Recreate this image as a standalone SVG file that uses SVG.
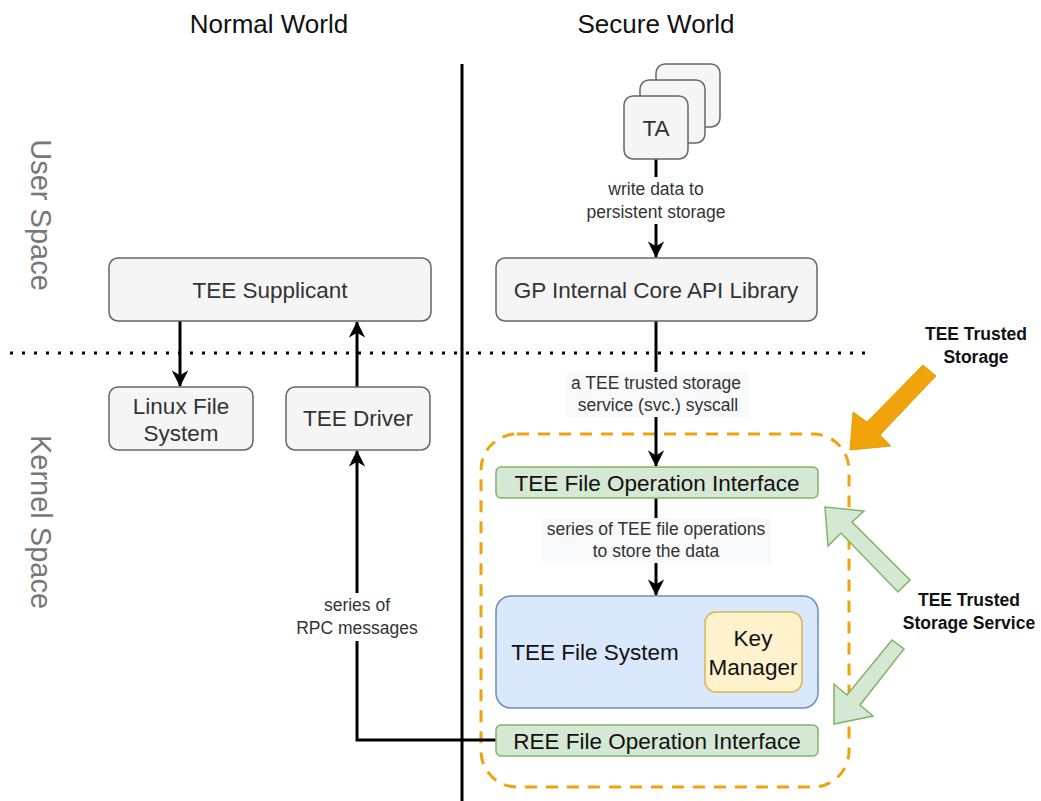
<svg xmlns="http://www.w3.org/2000/svg" width="1041" height="801" viewBox="0 0 1041 801">
  <defs>
    <style>
      text { font-family: "Liberation Sans", Arial, Helvetica, sans-serif; text-anchor: middle; }
      .title { font-size: 26px; fill: #111; }
      .side { font-size: 29px; fill: #777; }
      .box { fill: #f5f5f5; stroke: #666; stroke-width: 1.5; }
      .box-t { font-size: 22.5px; fill: #333; }
      .green { fill: #d5e8d4; stroke: #82b366; stroke-width: 1.5; }
      .green-t { font-size: 22.5px; fill: #111; }
      .lbl { font-size: 17.5px; fill: #333; }
      .lbl-bg { fill: #f8f9fa; }
      .edge { fill: none; stroke: #000; stroke-width: 3; }
      .note { font-size: 17.5px; font-weight: bold; fill: #111; }
    </style>
    <marker id="arrow" viewBox="0 0 10 10" refX="9.5" refY="5" markerWidth="5.5" markerHeight="5.5" markerUnits="strokeWidth" orient="auto">
      <path d="M0,0 L10,5 L0,10 L3,5 Z" fill="#000"/>
    </marker>
  </defs>

  <rect width="1041" height="801" fill="#fff"/>

  <!-- headings and region labels -->
  <text class="title" x="269" y="33">Normal World</text>
  <text class="title" x="656" y="33">Secure World</text>
  <text class="side" transform="translate(31,215) rotate(90)">User Space</text>
  <text class="side" transform="translate(31,522) rotate(90)">Kernel Space</text>

  <!-- world / space separators -->
  <line x1="462" y1="64" x2="462" y2="801" stroke="#000" stroke-width="3"/>
  <line x1="10" y1="353" x2="868" y2="353" stroke="#000" stroke-width="3" stroke-dasharray="3 9"/>

  <!-- trusted storage boundary -->
  <rect id="trusted-storage" x="481" y="434" width="368" height="353" rx="36" fill="none" stroke="#f0a30a" stroke-width="3" stroke-dasharray="12 9"/>

  <g id="connectors">
    <path class="edge" d="M180,321 V386" marker-end="url(#arrow)"/>
    <path class="edge" d="M357,387 V322" marker-end="url(#arrow)"/>
    <path class="edge" d="M496,740 H357 V451" marker-end="url(#arrow)"/>
    <path class="edge" d="M656,159 V257" marker-end="url(#arrow)"/>
    <path class="edge" d="M656,321 V466" marker-end="url(#arrow)"/>
    <path class="edge" d="M656,498 V595" marker-end="url(#arrow)"/>

    <rect x="293" y="593" width="130" height="48" fill="#fff"/>
    <text class="lbl" x="357" y="611">series of</text>
    <text class="lbl" x="357" y="634">RPC messages</text>

    <rect x="585" y="177" width="142" height="47" fill="#fff"/>
    <text class="lbl" x="656" y="195">write data to</text>
    <text class="lbl" x="656" y="218">persistent storage</text>

    <rect class="lbl-bg" x="567" y="372" width="182" height="45"/>
    <text class="lbl" x="656" y="389">a TEE trusted storage</text>
    <text class="lbl" x="658" y="411">service (svc.) syscall</text>

    <rect class="lbl-bg" x="542" y="518" width="229" height="45"/>
    <text class="lbl" x="656" y="535">series of TEE file operations</text>
    <text class="lbl" x="656" y="557">to store the data</text>
  </g>

  <g id="tee-supplicant">
    <rect class="box" x="109" y="258" width="322" height="63" rx="9"/>
    <text class="box-t" x="270" y="298">TEE Supplicant</text>
  </g>
  <g id="linux-fs">
    <rect class="box" x="109" y="387" width="144" height="63" rx="9"/>
    <text class="box-t" x="181" y="414">Linux File</text>
    <text class="box-t" x="181" y="441">System</text>
  </g>
  <g id="tee-driver">
    <rect class="box" x="286" y="387" width="144" height="63" rx="9"/>
    <text class="box-t" x="358" y="426">TEE Driver</text>
  </g>

  <g id="ta">
    <rect class="box" x="656" y="64" width="64" height="63" rx="9"/>
    <rect class="box" x="640" y="80" width="65" height="63" rx="9"/>
    <rect class="box" x="624" y="96" width="64" height="63" rx="9"/>
    <text class="box-t" x="656" y="136">TA</text>
  </g>

  <g id="gp-api">
    <rect class="box" x="496" y="258" width="321" height="63" rx="9"/>
    <text class="box-t" x="656" y="298">GP Internal Core API Library</text>
  </g>

  <g id="tee-foi">
    <rect class="green" x="496" y="467" width="322" height="31" rx="5"/>
    <text class="green-t" x="657" y="491">TEE File Operation Interface</text>
  </g>

  <g id="tee-fs">
    <rect x="496" y="596" width="322" height="112" rx="15" fill="#dae8fc" stroke="#6c8ebf" stroke-width="1.5"/>
    <text class="green-t" x="595" y="660">TEE File System</text>
  </g>

  <g id="key-manager">
    <rect x="705" y="612" width="97" height="80" rx="11" fill="#fff2cc" stroke="#d6b656" stroke-width="1.5"/>
    <text class="green-t" x="753" y="646">Key</text>
    <text class="green-t" x="753" y="675">Manager</text>
  </g>

  <g id="ree-foi">
    <rect class="green" x="496" y="725" width="322" height="31" rx="5"/>
    <text class="green-t" x="657" y="749">REE File Operation Interface</text>
  </g>

  <!-- callout arrows -->
  <g id="callout-storage">
    <polygon points="923,365 936,376 880,435 891,446 850,450 853,412 867,422" fill="#f0a30a" stroke="#e3a008" stroke-width="1"/>
    <text class="note" x="976" y="340">TEE Trusted</text>
    <text class="note" x="976" y="363">Storage</text>
  </g>
  <g id="callout-service">
    <polygon points="910,580 898,592 841,533 828,546 825,507 864,511 852,522" fill="#d5e8d4" stroke="#82b366" stroke-width="1.5"/>
    <polygon points="892,640 904,649 860,705 873,716 834,724 834,684 847,695" fill="#d5e8d4" stroke="#82b366" stroke-width="1.5"/>
    <text class="note" x="969" y="606">TEE Trusted</text>
    <text class="note" x="969" y="629">Storage Service</text>
  </g>
</svg>
